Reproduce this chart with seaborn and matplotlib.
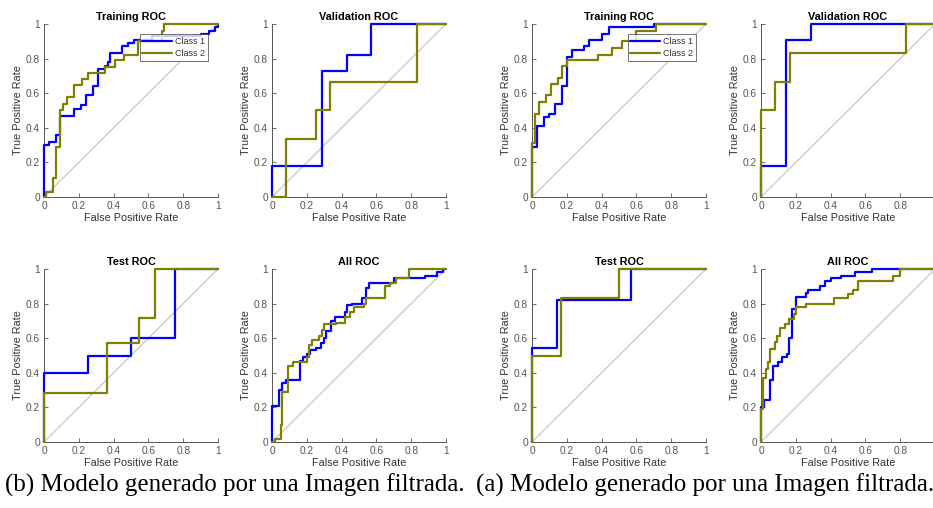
import numpy as np
import pandas as pd
import seaborn as sns
import matplotlib.pyplot as plt

# DADOS - pontos de cada curva ROC em escada
# grupo (b) - esquerda
b_train_c1_fpr = [0, 0, 0.03, 0.07, 0.09, 0.17, 0.21, 0.24, 0.28, 0.31, 0.35, 0.37, 0.38, 0.45, 0.48, 0.52, 0.62, 0.9, 0.95, 0.98, 1]
b_train_c1_tpr = [0, 0.30, 0.32, 0.36, 0.47, 0.51, 0.53, 0.59, 0.64, 0.74, 0.76, 0.78, 0.83, 0.87, 0.89, 0.91, 0.93, 0.94, 0.96, 0.98, 1]
b_train_c2_fpr = [0, 0.01, 0.05, 0.07, 0.09, 0.11, 0.13, 0.17, 0.22, 0.25, 0.35, 0.41, 0.46, 0.54, 0.68, 0.69, 1]
b_train_c2_tpr = [0, 0.03, 0.11, 0.29, 0.50, 0.54, 0.58, 0.645, 0.68, 0.715, 0.75, 0.79, 0.82, 0.90, 0.96, 1.0, 1]

b_val_c1_fpr = [0, 0, 0.286, 0.429, 0.571, 1]
b_val_c1_tpr = [0, 0.18, 0.73, 0.82, 1.0, 1]
b_val_c2_fpr = [0, 0.083, 0.25, 0.333, 0.833, 1]
b_val_c2_tpr = [0, 0.333, 0.5, 0.667, 1.0, 1]

b_test_c1_fpr = [0, 0, 0.25, 0.5, 0.75, 1]
b_test_c1_tpr = [0, 0.4, 0.5, 0.6, 1.0, 1]
b_test_c2_fpr = [0, 0, 0.364, 0.545, 0.636, 1]
b_test_c2_tpr = [0, 0.286, 0.571, 0.714, 1.0, 1]

b_all_c1_fpr = [0, 0, 0.04, 0.06, 0.08, 0.16, 0.18, 0.2, 0.22, 0.25, 0.28, 0.3, 0.31, 0.34, 0.36, 0.42, 0.43, 0.46, 0.52, 0.54, 0.56, 0.7, 0.88, 0.95, 0.98, 1]
b_all_c1_tpr = [0, 0.21, 0.30, 0.34, 0.36, 0.47, 0.49, 0.51, 0.53, 0.545, 0.57, 0.60, 0.64, 0.70, 0.72, 0.75, 0.79, 0.80, 0.83, 0.89, 0.92, 0.95, 0.96, 0.98, 1.0, 1]
b_all_c2_fpr = [0, 0.02, 0.05, 0.06, 0.09, 0.12, 0.2, 0.21, 0.23, 0.27, 0.29, 0.3, 0.37, 0.42, 0.45, 0.47, 0.53, 0.54, 0.65, 0.68, 0.71, 0.79, 1]
b_all_c2_tpr = [0, 0.02, 0.10, 0.29, 0.44, 0.46, 0.49, 0.56, 0.59, 0.61, 0.65, 0.68, 0.69, 0.72, 0.75, 0.78, 0.80, 0.83, 0.90, 0.92, 0.95, 1.0, 1]

# grupo (a) - direita
a_train_c1_fpr = [0, 0, 0.03, 0.07, 0.10, 0.13, 0.17, 0.2, 0.23, 0.3, 0.33, 0.4, 0.44, 0.7, 1]
a_train_c1_tpr = [0, 0.29, 0.41, 0.46, 0.48, 0.54, 0.64, 0.81, 0.85, 0.87, 0.905, 0.94, 0.98, 1.0, 1]
a_train_c2_fpr = [0, 0, 0.02, 0.04, 0.08, 0.11, 0.15, 0.17, 0.2, 0.38, 0.46, 0.52, 0.6, 0.71, 1]
a_train_c2_tpr = [0, 0.31, 0.48, 0.55, 0.59, 0.655, 0.69, 0.76, 0.79, 0.82, 0.86, 0.90, 0.96, 1.0, 1]

a_val_c1_fpr = [0, 0, 0.143, 0.286, 1]
a_val_c1_tpr = [0, 0.18, 0.91, 1.0, 1]
a_val_c2_fpr = [0, 0, 0.083, 0.167, 0.833, 1]
a_val_c2_tpr = [0, 0.5, 0.667, 0.833, 1.0, 1]

a_test_c1_fpr = [0, 0, 0.143, 0.571, 1]
a_test_c1_tpr = [0, 0.545, 0.818, 1.0, 1]
a_test_c2_fpr = [0, 0, 0.167, 0.5, 1]
a_test_c2_tpr = [0, 0.5, 0.833, 1.0, 1]

a_all_c1_fpr = [0, 0, 0.02, 0.05, 0.07, 0.1, 0.12, 0.15, 0.16, 0.18, 0.2, 0.26, 0.27, 0.34, 0.37, 0.4, 0.46, 0.54, 0.64, 1]
a_all_c1_tpr = [0, 0.2, 0.24, 0.36, 0.44, 0.46, 0.49, 0.51, 0.60, 0.77, 0.84, 0.86, 0.88, 0.90, 0.93, 0.95, 0.96, 0.98, 1.0, 1]
a_all_c2_fpr = [0, 0, 0.01, 0.03, 0.04, 0.05, 0.08, 0.09, 0.11, 0.14, 0.16, 0.19, 0.2, 0.26, 0.42, 0.5, 0.53, 0.56, 0.76, 0.8, 1]
a_all_c2_tpr = [0, 0.19, 0.37, 0.42, 0.46, 0.54, 0.58, 0.61, 0.66, 0.68, 0.71, 0.74, 0.78, 0.80, 0.83, 0.855, 0.88, 0.93, 0.96, 1.0, 1]

titulos = ['Training ROC', 'Validation ROC', 'Test ROC', 'All ROC']
legendas = ['Class 1', 'Class 2']
ticks = [0, 0.2, 0.4, 0.6, 0.8, 1]
tick_labels = ['0', '0.2', '0.4', '0.6', '0.8', '1']
legenda_b = '(b) Modelo generado por una Imagen filtrada.'
legenda_a = '(a) Modelo generado por una Imagen filtrada.'

curvas = {
    ('b', 0): (b_train_c1_fpr, b_train_c1_tpr, b_train_c2_fpr, b_train_c2_tpr),
    ('b', 1): (b_val_c1_fpr, b_val_c1_tpr, b_val_c2_fpr, b_val_c2_tpr),
    ('b', 2): (b_test_c1_fpr, b_test_c1_tpr, b_test_c2_fpr, b_test_c2_tpr),
    ('b', 3): (b_all_c1_fpr, b_all_c1_tpr, b_all_c2_fpr, b_all_c2_tpr),
    ('a', 0): (a_train_c1_fpr, a_train_c1_tpr, a_train_c2_fpr, a_train_c2_tpr),
    ('a', 1): (a_val_c1_fpr, a_val_c1_tpr, a_val_c2_fpr, a_val_c2_tpr),
    ('a', 2): (a_test_c1_fpr, a_test_c1_tpr, a_test_c2_fpr, a_test_c2_tpr),
    ('a', 3): (a_all_c1_fpr, a_all_c1_tpr, a_all_c2_fpr, a_all_c2_tpr),
}

sns.set_theme(style='white')
plt.rcParams['font.family'] = ['Liberation Sans', 'DejaVu Sans']

W, H = 933, 508
fig = plt.figure(figsize=(W / 100, H / 100), dpi=100)

# posicoes em pixels (esquerda de cada coluna, topo de cada linha)
x_col = {'b': [44, 272], 'a': [532, 761]}
y_lin = [24, 269]
larg, alt = 174, 173

cor_azul = '#0000ff'
cor_oliva = '#808000'
cor_eixo = '#555555'

for grupo in ['b', 'a']:
    for i in range(4):
        lin, col = divmod(i, 2)
        x0 = x_col[grupo][col]
        y0 = y_lin[lin]
        ax = fig.add_axes([x0 / W, 1 - (y0 + alt) / H, larg / W, alt / H])
        f1, t1, f2, t2 = curvas[(grupo, i)]

        # linha diagonal
        ax.plot([0, 1], [0, 1], color='#cccccc', lw=1.0, zorder=1)
        sns.lineplot(x=f1, y=t1, ax=ax, color=cor_azul, lw=1.6, estimator=None, sort=False,
                     drawstyle='steps-post', label=legendas[0], clip_on=False, zorder=3)
        sns.lineplot(x=f2, y=t2, ax=ax, color=cor_oliva, lw=1.6, estimator=None, sort=False,
                     drawstyle='steps-post', label=legendas[1], clip_on=False, zorder=4)

        ax.set_xlim(0, 1)
        ax.set_ylim(0, 1)
        ax.set_xticks(ticks)
        ax.set_xticklabels(tick_labels)
        ax.set_yticks(ticks)
        ax.set_yticklabels(tick_labels)
        ax.tick_params(direction='in', length=3, width=0.6, colors=cor_eixo, labelsize=7.3,
                       bottom=True, left=True, pad=3)
        for s in ['top', 'right']:
            ax.spines[s].set_visible(False)
        for s in ['left', 'bottom']:
            ax.spines[s].set_color(cor_eixo)
            ax.spines[s].set_linewidth(0.7)
        ax.set_xlabel('False Positive Rate', fontsize=7.8, color='#333333', labelpad=1)
        ax.set_ylabel('True Positive Rate', fontsize=7.8, color='#333333', labelpad=2)
        ax.set_title(titulos[i], fontsize=7.8, fontweight='bold', color='black', pad=3)

        if i == 0:
            leg = ax.legend(loc='upper left', bbox_to_anchor=(0.55, 0.94), fontsize=6.5,
                            frameon=True, fancybox=False, handlelength=3.3, borderpad=0.3,
                            labelspacing=0.3, handletextpad=0.3, borderaxespad=0)
            leg.get_frame().set_edgecolor('#333333')
            leg.get_frame().set_linewidth(0.6)
            for t in leg.get_texts():
                t.set_color('#333333')
        else:
            ax.get_legend().remove()

fig.text(235 / W, 1 - 485 / H, legenda_b, ha='center', va='center', fontsize=18,
         family='Liberation Serif', color='black')
fig.text(705 / W, 1 - 485 / H, legenda_a, ha='center', va='center', fontsize=18,
         family='Liberation Serif', color='black')

plt.savefig('out.png', dpi=100)
